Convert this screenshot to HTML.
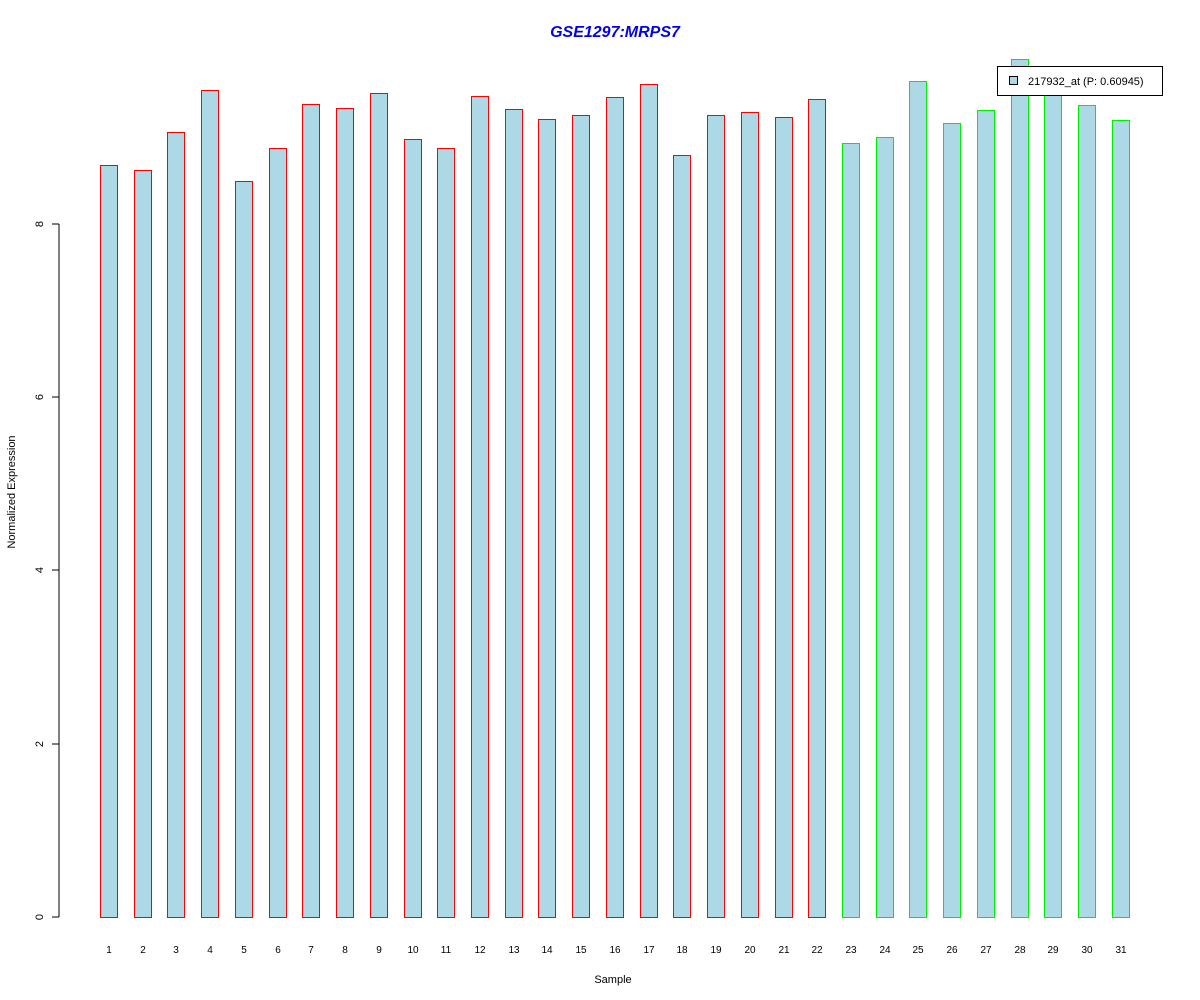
<!DOCTYPE html>
<html><head><style>body{margin:0;background:#fff}svg{display:block;font-family:"Liberation Sans",Arial,sans-serif}</style></head>
<body>
<svg width="1200" height="1000" xmlns="http://www.w3.org/2000/svg">
<rect width="1200" height="1000" fill="#fff"/>
<text x="615" y="37" text-anchor="middle" font-size="16" font-weight="bold" font-style="italic" fill="#0000ee">GSE1297:MRPS7</text>
<g stroke="#000" fill="none" shape-rendering="crispEdges">
<line x1="59" y1="224" x2="59" y2="917"/>
<line x1="52" y1="917" x2="59" y2="917"/>
<line x1="52" y1="744" x2="59" y2="744"/>
<line x1="52" y1="570" x2="59" y2="570"/>
<line x1="52" y1="397" x2="59" y2="397"/>
<line x1="52" y1="224" x2="59" y2="224"/>
</g>
<g font-size="11" text-anchor="middle">
<text transform="translate(43,917) rotate(-90)">0</text>
<text transform="translate(43,744) rotate(-90)">2</text>
<text transform="translate(43,570) rotate(-90)">4</text>
<text transform="translate(43,397) rotate(-90)">6</text>
<text transform="translate(43,224) rotate(-90)">8</text>
<text transform="translate(15,492) rotate(-90)">Normalized Expression</text>
<text x="613" y="983">Sample</text>
</g>
<g fill="#add8e6" shape-rendering="crispEdges" stroke-width="1">
<rect x="100.5" y="165.5" width="17" height="752" stroke="#ff0000"/>
<rect x="134.5" y="170.5" width="17" height="747" stroke="#ff0000"/>
<rect x="167.5" y="132.5" width="17" height="785" stroke="#ff0000"/>
<rect x="201.5" y="90.5" width="17" height="827" stroke="#ff0000"/>
<rect x="235.5" y="181.5" width="17" height="736" stroke="#ff0000"/>
<rect x="269.5" y="148.5" width="17" height="769" stroke="#ff0000"/>
<rect x="302.5" y="104.5" width="17" height="813" stroke="#ff0000"/>
<rect x="336.5" y="108.5" width="17" height="809" stroke="#ff0000"/>
<rect x="370.5" y="93.5" width="17" height="824" stroke="#ff0000"/>
<rect x="404.5" y="139.5" width="17" height="778" stroke="#ff0000"/>
<rect x="437.5" y="148.5" width="17" height="769" stroke="#ff0000"/>
<rect x="471.5" y="96.5" width="17" height="821" stroke="#ff0000"/>
<rect x="505.5" y="109.5" width="17" height="808" stroke="#ff0000"/>
<rect x="538.5" y="119.5" width="17" height="798" stroke="#ff0000"/>
<rect x="572.5" y="115.5" width="17" height="802" stroke="#ff0000"/>
<rect x="606.5" y="97.5" width="17" height="820" stroke="#ff0000"/>
<rect x="640.5" y="84.5" width="17" height="833" stroke="#ff0000"/>
<rect x="673.5" y="155.5" width="17" height="762" stroke="#ff0000"/>
<rect x="707.5" y="115.5" width="17" height="802" stroke="#ff0000"/>
<rect x="741.5" y="112.5" width="17" height="805" stroke="#ff0000"/>
<rect x="775.5" y="117.5" width="17" height="800" stroke="#ff0000"/>
<rect x="808.5" y="99.5" width="17" height="818" stroke="#ff0000"/>
<rect x="842.5" y="143.5" width="17" height="774" stroke="#00ee00"/>
<rect x="876.5" y="137.5" width="17" height="780" stroke="#00ee00"/>
<rect x="909.5" y="81.5" width="17" height="836" stroke="#00ee00"/>
<rect x="943.5" y="123.5" width="17" height="794" stroke="#00ee00"/>
<rect x="977.5" y="110.5" width="17" height="807" stroke="#00ee00"/>
<rect x="1011.5" y="59.5" width="17" height="858" stroke="#00ee00"/>
<rect x="1044.5" y="93.5" width="17" height="824" stroke="#00ee00"/>
<rect x="1078.5" y="105.5" width="17" height="812" stroke="#00ee00"/>
<rect x="1112.5" y="120.5" width="17" height="797" stroke="#00ee00"/>
</g>
<g font-size="10" text-anchor="middle">
<text x="109" y="953">1</text><text x="143" y="953">2</text><text x="176" y="953">3</text><text x="210" y="953">4</text><text x="244" y="953">5</text><text x="278" y="953">6</text><text x="311" y="953">7</text><text x="345" y="953">8</text><text x="379" y="953">9</text><text x="413" y="953">10</text><text x="446" y="953">11</text><text x="480" y="953">12</text><text x="514" y="953">13</text><text x="547" y="953">14</text><text x="581" y="953">15</text><text x="615" y="953">16</text><text x="649" y="953">17</text><text x="682" y="953">18</text><text x="716" y="953">19</text><text x="750" y="953">20</text><text x="784" y="953">21</text><text x="817" y="953">22</text><text x="851" y="953">23</text><text x="885" y="953">24</text><text x="918" y="953">25</text><text x="952" y="953">26</text><text x="986" y="953">27</text><text x="1020" y="953">28</text><text x="1053" y="953">29</text><text x="1087" y="953">30</text><text x="1121" y="953">31</text>
</g>
<rect x="997.5" y="66.5" width="165" height="29" fill="#fff" stroke="#000" shape-rendering="crispEdges"/>
<rect x="1009.5" y="76.5" width="8" height="8" fill="#add8e6" stroke="#000" shape-rendering="crispEdges"/>
<text x="1028" y="85" font-size="11">217932_at (P: 0.60945)</text>
</svg>
</body></html>
